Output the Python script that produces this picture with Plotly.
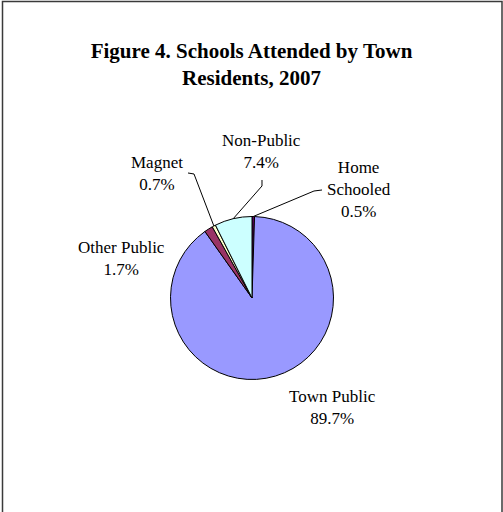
import numpy as np
import plotly.graph_objects as go

# School types, in clockwise order starting from 12 o'clock
categories = ["Home Schooled", "Town Public", "Other Public", "Magnet", "Non-Public"]
shares = [0.5, 89.7, 1.7, 0.7, 7.4]
colors = ["#660066", "#9999FF", "#993366", "#FFFFCC", "#CCFFFF"]

W, H = 503, 512
CX, CY, R = 252, 298, 81.5  # pie centre and radius in pixels (from top-left)

def px(x, y):
    """pixel (from top-left) -> paper coordinates"""
    return x / W, 1 - y / H

# label placement (pixel centre of the text block) and optional leader elbow
label_layout = {
    "Home Schooled": dict(text="Home<br>Schooled<br>0.5%", pos=(359, 189), elbow=[(322, 190), (314, 191)]),
    "Town Public": dict(text="Town Public<br>89.7%", pos=(332, 407), elbow=None),
    "Other Public": dict(text="Other Public<br>1.7%", pos=(121, 258), elbow=None),
    "Magnet": dict(text="Magnet<br>0.7%", pos=(157, 173), elbow=[(188, 173), (194, 174)]),
    "Non-Public": dict(text="Non-Public<br>7.4%", pos=(261, 151), elbow=[(262, 180), (262, 186)]),
}

fig = go.Figure()

x0, y1 = px(CX - R, CY - R)
x1, y0 = px(CX + R, CY + R)
fig.add_trace(go.Pie(
    labels=categories,
    values=shares,
    sort=False,
    direction="clockwise",
    rotation=0,
    marker=dict(colors=colors, line=dict(color="black", width=1)),
    textinfo="none",
    hoverinfo="label+percent",
    showlegend=False,
    domain=dict(x=[x0, x1], y=[y0, y1]),
))

# mid-angle of each slice (clockwise from top), derived from the values
vals = np.array(shares, dtype=float)
frac = vals / vals.sum()
mid = (np.cumsum(frac) - frac / 2) * 2 * np.pi

annotations = []
shapes = []
for name, ang in zip(categories, mid):
    spec = label_layout[name]
    lx, ly = px(*spec["pos"])
    annotations.append(dict(
        x=lx, y=ly, xref="paper", yref="paper", text=spec["text"],
        showarrow=False, xanchor="center", yanchor="middle", align="center",
        font=dict(family="Liberation Serif, Times New Roman, serif", size=17, color="black"),
    ))
    if spec["elbow"]:
        ex = CX + R * np.sin(ang)
        ey = CY - R * np.cos(ang)
        pts = spec["elbow"] + [(ex, ey)]
        path = ""
        for i, (x, y) in enumerate(pts):
            pxv, pyv = px(x, y)
            path += ("M" if i == 0 else " L") + f"{pxv:.5f},{pyv:.5f}"
        shapes.append(dict(type="path", path=path, xref="paper", yref="paper",
                           line=dict(color="black", width=1)))

# chart frame
shapes.append(dict(type="rect", xref="paper", yref="paper",
                   x0=2.5 / W, x1=1 - 1 / W, y0=-0.05, y1=1 - 1.5 / H,
                   line=dict(color="#3a3a3a", width=1.5)))

fig.update_layout(
    width=W, height=H,
    margin=dict(l=0, r=0, t=0, b=0),
    paper_bgcolor="white",
    plot_bgcolor="white",
    title=dict(
        text="<b>Figure 4. Schools Attended by Town<br>Residents, 2007</b>",
        x=0.5, xanchor="center", y=1 - 58 / H, yanchor="middle",
        font=dict(family="Liberation Serif, Times New Roman, serif", size=21, color="black"),
    ),
    annotations=annotations,
    shapes=shapes,
)

fig.write_html("out.html")
